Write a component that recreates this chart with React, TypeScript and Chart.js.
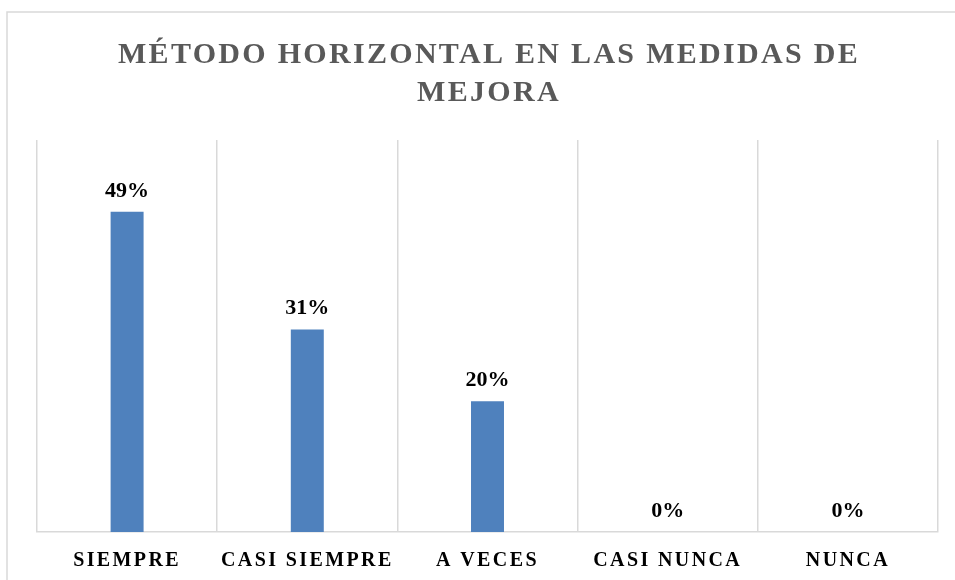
import React, { useEffect, useRef } from "react";
import { Chart, registerables } from "chart.js";

Chart.register(...registerables);

const titleLines = ["MÉTODO HORIZONTAL EN LAS MEDIDAS DE", "MEJORA"];
const categories = ["SIEMPRE", "CASI SIEMPRE", "A VECES", "CASI NUNCA", "NUNCA"];
const values = [49, 31, 20, 0, 0];
const yMax = 60;

const FONT = "'Liberation Serif', 'DejaVu Serif', serif";

const framePlugin = {
  id: "frame",
  beforeDraw(chart: any) {
    const ctx = chart.ctx;
    ctx.save();
    ctx.strokeStyle = "#d9d9d9";
    ctx.lineWidth = 1.5;
    ctx.beginPath();
    ctx.moveTo(7, 580);
    ctx.lineTo(7, 12);
    ctx.lineTo(955, 12);
    ctx.stroke();
    // title
    ctx.fillStyle = "#595959";
    ctx.font = `bold 30px ${FONT}`;
    ctx.textAlign = "center";
    ctx.textBaseline = "alphabetic";
    (ctx as any).letterSpacing = "2.3px";
    ctx.fillText(titleLines[0], 489, 63);
    ctx.fillText(titleLines[1], 489, 101);
    ctx.restore();
    (ctx as any).letterSpacing = "2.4px";
  },
  afterDatasetsDraw(chart: any) {
    const ctx = chart.ctx;
    (ctx as any).letterSpacing = "0px";
    const meta = chart.getDatasetMeta(0);
    ctx.save();
    ctx.fillStyle = "#000000";
    ctx.font = `bold 22px ${FONT}`;
    ctx.textAlign = "center";
    ctx.textBaseline = "alphabetic";
    meta.data.forEach((bar: any, i: number) => {
      ctx.fillText(values[i] + "%", bar.x, bar.y - 15);
    });
    ctx.restore();
  },
  afterDraw(chart: any) {
    (chart.ctx as any).letterSpacing = "0px";
  },
};

export default function App() {
  const ref = useRef<HTMLCanvasElement | null>(null);
  useEffect(() => {
    if (!ref.current) return;
    const chart = new Chart(ref.current, {
      type: "bar",
      data: {
        labels: categories,
        datasets: [
          {
            data: values,
            backgroundColor: "#4F81BD",
            borderWidth: 0,
            barPercentage: 1,
            categoryPercentage: 0.183,
          },
        ],
      },
      options: {
        animation: false,
        responsive: false,
        maintainAspectRatio: false,
        layout: { padding: { left: 37, right: 17, top: 140, bottom: 0 } },
        plugins: {
          legend: { display: false },
          title: { display: false },
          tooltip: { enabled: false },
        },
        scales: {
          x: {
            offset: true,
            grid: {
              display: true,
              offset: true,
              color: "#d9d9d9",
              lineWidth: 1.5,
              drawTicks: false,
            },
            border: { display: true, color: "#d9d9d9", width: 1.5 },
            ticks: {
              color: "#000000",
              font: { family: FONT, size: 20, weight: "bold" },
              padding: 17,
              maxRotation: 0,
              autoSkip: false,
            },
            afterFit(scale: any) {
              scale.height = 48;
            },
          },
          y: {
            display: false,
            min: 0,
            max: yMax,
          },
        },
      },
      plugins: [framePlugin],
    });
    return () => chart.destroy();
  }, []);
  return (
    <div style={{ position: "fixed", left: 0, top: 0, width: 955, height: 580, background: "#ffffff" }}>
      <canvas ref={ref} width={955} height={580} style={{ display: "block", width: 955, height: 580 }} />
    </div>
  );
}
